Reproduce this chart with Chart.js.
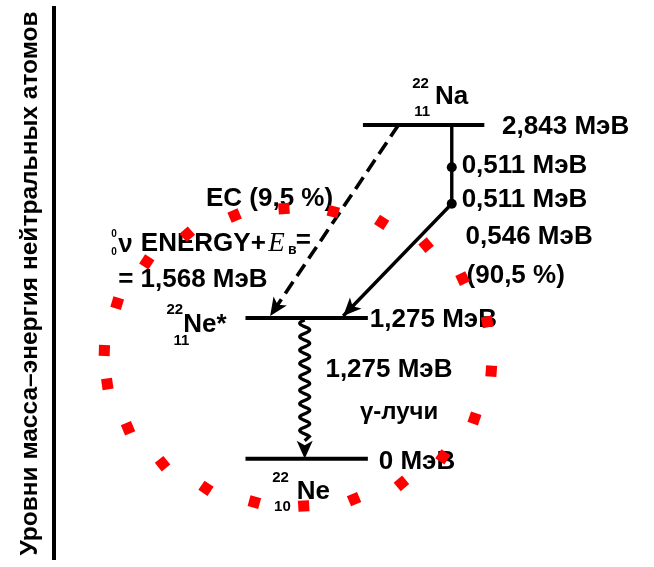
<!DOCTYPE html>
<html>
<head>
<meta charset="utf-8">
<script src="https://cdn.jsdelivr.net/npm/chart.js@4.4.1/dist/chart.umd.min.js"></script>
<style>
    html, body { margin: 0; padding: 0; background: #fff; }
    #wrap { width: 654px; height: 567px; }
</style>
</head>
<body>
<div id="wrap"><canvas id="decayChart"></canvas></div>
<script>
// Decay scheme of Na-22, in diagram units (y grows downwards)
const axisTitle = 'Уровни масса–энергия нейтральных атомов';

const nuclideMass = ['22', '22', '22'];
const nuclideCharge = ['11', '11', '10'];
const nuclideSymbol = ['Na', 'Ne*', 'Ne'];
const levelEnergy = ['2,843 МэВ', '1,275 МэВ', '0 МэВ'];
const levelY = [124, 320, 463];
const levelStart = [367, 248, 248];
const levelEnd = [490, 372, 372];

// beta+ branch: down the Na line through two 0,511 MeV points, then to Ne*
const betaX = [457, 457, 457, 347];
const betaY = [124, 167, 204, 318];
const betaLabels = ['0,511 МэВ', '0,511 МэВ', '0,546 МэВ', '(90,5 %)'];

// electron capture branch
const ecX = [403, 273];
const ecY = [124, 318];
const ecLabel = 'EC (9,5 %)';
const ecEnergy = ['ENERGY+', '= 1,568 МэВ'];

// gamma transition Ne* -> Ne
const gammaX = [308, 308];
const gammaY = [322, 463];
const gammaLabels = ['1,275 МэВ', 'γ-лучи'];

// red dotted ring drawn over the scheme
const ringX = [237, 287, 337, 386, 431, 468, 493, 497, 480, 448, 406, 358, 307, 257, 208, 164, 129, 108, 105, 118, 148, 189];
const ringY = [216, 209, 212, 223, 246, 280, 324, 374, 422, 461, 488, 504, 511, 507, 493, 468, 432, 387, 353, 305, 263, 235];

const ringCx = ringX.reduce((a, b) => a + b, 0) / ringX.length;
const ringCy = ringY.reduce((a, b) => a + b, 0) / ringY.length;

function toPoints(xs, ys) {
    return xs.map((x, i) => ({ x: x, y: ys[i] }));
}

const levelSets = levelY.map((y, i) => ({
    data: [{ x: levelStart[i], y: y }, { x: levelEnd[i], y: y }],
    borderColor: '#000',
    borderWidth: 4,
    pointRadius: 0,
    order: 2
}));

// labels, arrowheads and the wavy gamma line
const schemeDecor = {
    id: 'schemeDecor',
    beforeDatasetsDraw(chart) {
        const ctx = chart.ctx;
        const sx = chart.scales.x;
        const sy = chart.scales.y;
        const put = (text, x, y, font) => {
            ctx.font = font;
            ctx.fillText(text, sx.getPixelForValue(x), sy.getPixelForValue(y));
        };
        ctx.save();
        ctx.fillStyle = '#000';
        ctx.textBaseline = 'middle';
        ctx.textAlign = 'left';

        const big = 'bold 26px "Liberation Sans", Arial, sans-serif';
        const small = 'bold 15px "Liberation Sans", Arial, sans-serif';

        // nuclide symbols
        put(nuclideMass[0], 417, 82, small);
        put(nuclideSymbol[0], 440, 95, big);
        put(nuclideCharge[0], 419, 111, small);

        put(nuclideMass[1], 168, 312, small);
        put(nuclideSymbol[1], 185, 327, big);
        put(nuclideCharge[1], 175, 343, small);

        put(nuclideMass[2], 275, 482, small);
        put(nuclideSymbol[2], 300, 497, big);
        put(nuclideCharge[2], 277, 512, small);

        // level energies
        put(levelEnergy[0], 508, 126, big);
        put(levelEnergy[1], 374, 322, big);
        put(levelEnergy[2], 383, 466, big);

        // beta branch labels
        put(betaLabels[0], 467, 165, big);
        put(betaLabels[1], 467, 200, big);
        put(betaLabels[2], 471, 238, big);
        put(betaLabels[3], 472, 277, big);

        // EC branch labels
        put(ecLabel, 208, 199, big);
        put('0', 112, 235, 'bold 10px "Liberation Sans", Arial, sans-serif');
        put('0', 112, 253, 'bold 10px "Liberation Sans", Arial, sans-serif');
        put('ν', 119, 246, big);
        put(ecEnergy[0], 142, 245, big);
        put('E', 271, 245, 'italic 27px "Liberation Serif", "Times New Roman", serif');
        put('в', 291, 251, 'bold 14px "Liberation Sans", Arial, sans-serif');
        put('=', 299, 242, big);
        put(ecEnergy[1], 119, 281, big);

        // gamma labels
        put(gammaLabels[0], 329, 373, big);
        put(gammaLabels[1], 364, 416, 'bold 24px "Liberation Sans", Arial, sans-serif');

        ctx.restore();
    },
    afterDatasetsDraw(chart) {
        const ctx = chart.ctx;
        ctx.save();
        ctx.fillStyle = '#000';
        ctx.strokeStyle = '#000';
        chart.data.datasets.forEach((ds, i) => {
            if (!ds.arrow && !ds.wavy) return;
            const pts = chart.getDatasetMeta(i).data;
            const a = pts[pts.length - 2];
            const b = pts[pts.length - 1];
            const ang = Math.atan2(b.y - a.y, b.x - a.x);
            const headLen = 18;
            const headHalf = 8;

            if (ds.wavy) {
                // sine wiggle along the segment, straight tail into the head
                const len = Math.hypot(b.x - a.x, b.y - a.y);
                const waveLen = len - headLen - 4;
                const period = 13.4;
                const amp = 5;
                ctx.lineWidth = 3.2;
                ctx.beginPath();
                for (let s = 0; s <= waveLen; s += 0.5) {
                    const off = amp * Math.sin(2 * Math.PI * s / period);
                    const px = a.x + Math.cos(ang) * s - Math.sin(ang) * off;
                    const py = a.y + Math.sin(ang) * s + Math.cos(ang) * off;
                    if (s === 0) ctx.moveTo(px, py); else ctx.lineTo(px, py);
                }
                ctx.lineTo(b.x - Math.cos(ang) * headLen, b.y - Math.sin(ang) * headLen);
                ctx.stroke();
            }

            ctx.beginPath();
            ctx.moveTo(b.x, b.y);
            ctx.lineTo(b.x - Math.cos(ang) * headLen - Math.sin(ang) * headHalf,
                       b.y - Math.sin(ang) * headLen + Math.cos(ang) * headHalf);
            ctx.lineTo(b.x - Math.cos(ang) * headLen * 0.75, b.y - Math.sin(ang) * headLen * 0.75);
            ctx.lineTo(b.x - Math.cos(ang) * headLen + Math.sin(ang) * headHalf,
                       b.y - Math.sin(ang) * headLen - Math.cos(ang) * headHalf);
            ctx.closePath();
            ctx.fill();
        });
        ctx.restore();
    }
};

new Chart(document.getElementById('decayChart'), {
    type: 'line',
    data: {
        datasets: [
            {
                // red ring on top of everything
                data: toPoints(ringX, ringY),
                showLine: false,
                pointStyle: 'rect',
                pointRadius: 7.8,
                pointHoverRadius: 7.8,
                pointBorderWidth: 0,
                pointBackgroundColor: '#ff0000',
                pointBorderColor: '#ff0000',
                pointRotation: (c) => {
                    const i = c.dataIndex;
                    return Math.atan2(ringY[i] - ringCy, ringX[i] - ringCx) * 180 / Math.PI;
                },
                order: 0
            },
            ...levelSets,
            {
                data: toPoints(betaX, betaY),
                borderColor: '#000',
                borderWidth: 3.4,
                pointRadius: [0, 5, 5, 0],
                pointBackgroundColor: '#000',
                pointBorderWidth: 0,
                arrow: true,
                order: 1
            },
            {
                data: toPoints(ecX, ecY),
                borderColor: '#000',
                borderWidth: 3.6,
                borderDash: [14, 7],
                pointRadius: 0,
                arrow: true,
                order: 1
            },
            {
                data: toPoints(gammaX, gammaY),
                showLine: false,
                pointRadius: 0,
                wavy: true,
                order: 1
            }
        ]
    },
    options: {
        responsive: true,
        maintainAspectRatio: false,
        animation: false,
        clip: false,
        layout: { padding: { top: 5, bottom: 2, left: 0, right: 0 } },
        plugins: {
            legend: { display: false },
            tooltip: { enabled: false }
        },
        scales: {
            x: {
                type: 'linear',
                display: false,
                min: 54,
                max: 654
            },
            y: {
                type: 'linear',
                reverse: true,
                min: 5,
                max: 565,
                ticks: { display: false },
                grid: { display: false, drawTicks: false },
                border: { display: true, color: '#000', width: 4 },
                title: {
                    display: true,
                    text: axisTitle,
                    color: '#000',
                    font: { family: '"Liberation Sans", Arial, sans-serif', size: 24.5, weight: 'bold' },
                    padding: { top: 16, bottom: 0 }
                },
                afterFit(scale) {
                    scale.width = 54;
                }
            }
        }
    },
    plugins: [schemeDecor]
});
</script>
</body>
</html>
